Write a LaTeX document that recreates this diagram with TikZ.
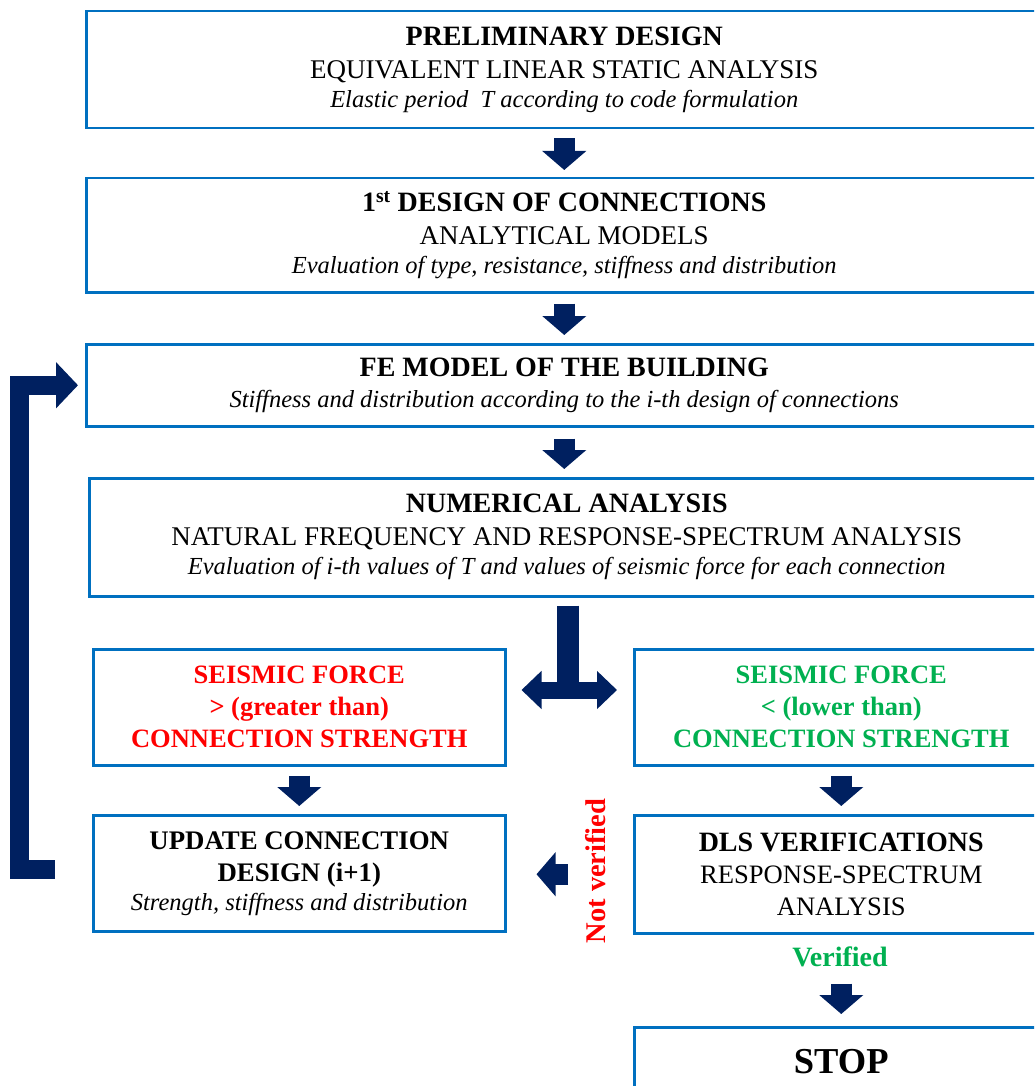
\documentclass[tikz,border=0pt]{standalone}
\usepackage{fontspec}
\setmainfont{Liberation Serif}
\usetikzlibrary{arrows.meta,positioning,calc}
\definecolor{boxblue}{RGB}{0,112,192}
\definecolor{navy}{RGB}{0,32,96}
\definecolor{okgreen}{RGB}{0,176,80}
\newcommand{\ttl}[1]{{\fontsize{28}{33}\selectfont\bfseries #1}}
\newcommand{\note}[1]{{\fontsize{24.5}{30}\selectfont\itshape #1}}
\begin{document}
\begin{tikzpicture}[x=1pt,y=-1pt,
		block/.style={draw=boxblue, line width=2.5pt, anchor=north west, align=center, inner sep=0pt,
			font=\fontsize{27}{33}\selectfont},
		wide/.style={block, minimum width=956pt},
		half/.style={block, minimum width=412pt},
		flow/.style={draw=navy, line width=21pt, -{Triangle[width=43pt,length=19pt]}},
		split arrow/.style={draw=navy, line width=17pt,
			{Triangle[width=37pt,length=20pt]}-{Triangle[width=37pt,length=20pt]}},
		loop arrow/.style={draw=navy, line width=19pt, line join=miter,
			-{Triangle[width=45pt,length=22pt]}}
	]
	\useasboundingbox (0,0) rectangle (1034,1086);
	\clip (0,0) rectangle (1034,1086);

	% main column
	\node[wide, minimum height=117pt] (prelim) at (85,10)
		{\ttl{PRELIMINARY DESIGN}\\ EQUIVALENT LINEAR STATIC ANALYSIS\\[-4pt]
		 \note{Elastic period~ T according to code formulation}};
	\node[wide, minimum height=114pt] (design) at (85,177)
		{\ttl{1\textsuperscript{st} DESIGN OF CONNECTIONS}\\ ANALYTICAL MODELS\\[-4pt]
		 \note{Evaluation of type, resistance, stiffness and distribution}};
	\node[wide, minimum height=82pt] (femodel) at (85,343)
		{\ttl{FE MODEL OF THE BUILDING}\\[-2pt]
		 \note{Stiffness and distribution according to the i-th design of connections}};
	\node[wide, minimum width=955pt, minimum height=118pt] (numeric) at (88,477)
		{\ttl{NUMERICAL ANALYSIS}\\ NATURAL FREQUENCY AND RESPONSE-SPECTRUM ANALYSIS\\[-4pt]
		 \note{Evaluation of i-th values of T and values of seismic force for each connection}};

	% branches
	\node[half, minimum height=116pt, text=red, font=\fontsize{26.5}{32}\selectfont\bfseries] (greater) at (92,648)
		{SEISMIC FORCE\\ > (greater than)\\ CONNECTION STRENGTH};
	\node[half, minimum width=414pt, minimum height=116pt, text=okgreen, font=\fontsize{26.5}{32}\selectfont\bfseries] (lower) at (633,648)
		{SEISMIC FORCE\\ < (lower than)\\ CONNECTION STRENGTH};
	\node[half, minimum height=116pt, font=\fontsize{26.8}{32}\selectfont] (update) at (92,814)
		{\textbf{UPDATE CONNECTION}\\ \textbf{DESIGN (i+1)}\\[-3pt]
		 \note{Strength, stiffness and distribution}};
	\node[half, minimum width=414pt, minimum height=118pt, font=\fontsize{26.6}{32}\selectfont] (dls) at (633,814)
		{\ttl{DLS VERIFICATIONS}\\ RESPONSE-SPECTRUM\\ ANALYSIS};
	\node[half, minimum width=414pt, minimum height=68pt, font=\fontsize{36.5}{44}\selectfont\bfseries] (stop) at (633,1026) {STOP};

	\node[text=red, font=\fontsize{28.5}{30}\selectfont\bfseries, rotate=90] (notver) at (596,871) {Not verified};
	\node[text=okgreen, font=\fontsize{28}{30}\selectfont\bfseries] (verif) at (840,957) {Verified};

	% connectors
	\draw[flow, shorten <=9pt, shorten >=7pt] (prelim.south) -- (design.north);
	\draw[flow, shorten <=10pt, shorten >=8pt] (design.south) -- (femodel.north);
	\draw[flow, shorten <=11pt, shorten >=8pt] (femodel.south) -- (femodel.south |- numeric.north);

	\coordinate (split) at (568,690);
	\draw[navy, line width=22pt, shorten <=8pt] (numeric.south -| split) -- ([yshift=-8.5pt]split);
	\draw[split arrow, shorten <=15pt, shorten >=16pt] (greater.east |- split) -- (lower.west |- split);

	\draw[flow, shorten <=9pt, shorten >=8pt] (greater.south) -- (update.north);
	\draw[flow, shorten <=9pt, shorten >=8pt] (lower.south) -- (dls.north);
	\draw[flow, shorten <=65pt, shorten >=30pt] (dls.west) -- (update.east |- dls.west);
	\draw[flow, shorten <=49pt, shorten >=12pt] (dls.south) -- (stop.north);

	\draw[loop arrow, shorten <=37pt, shorten >=7pt] ([yshift=4pt]update.west) -- ++(-73,0) |- (femodel.west);
\end{tikzpicture}
\end{document}
